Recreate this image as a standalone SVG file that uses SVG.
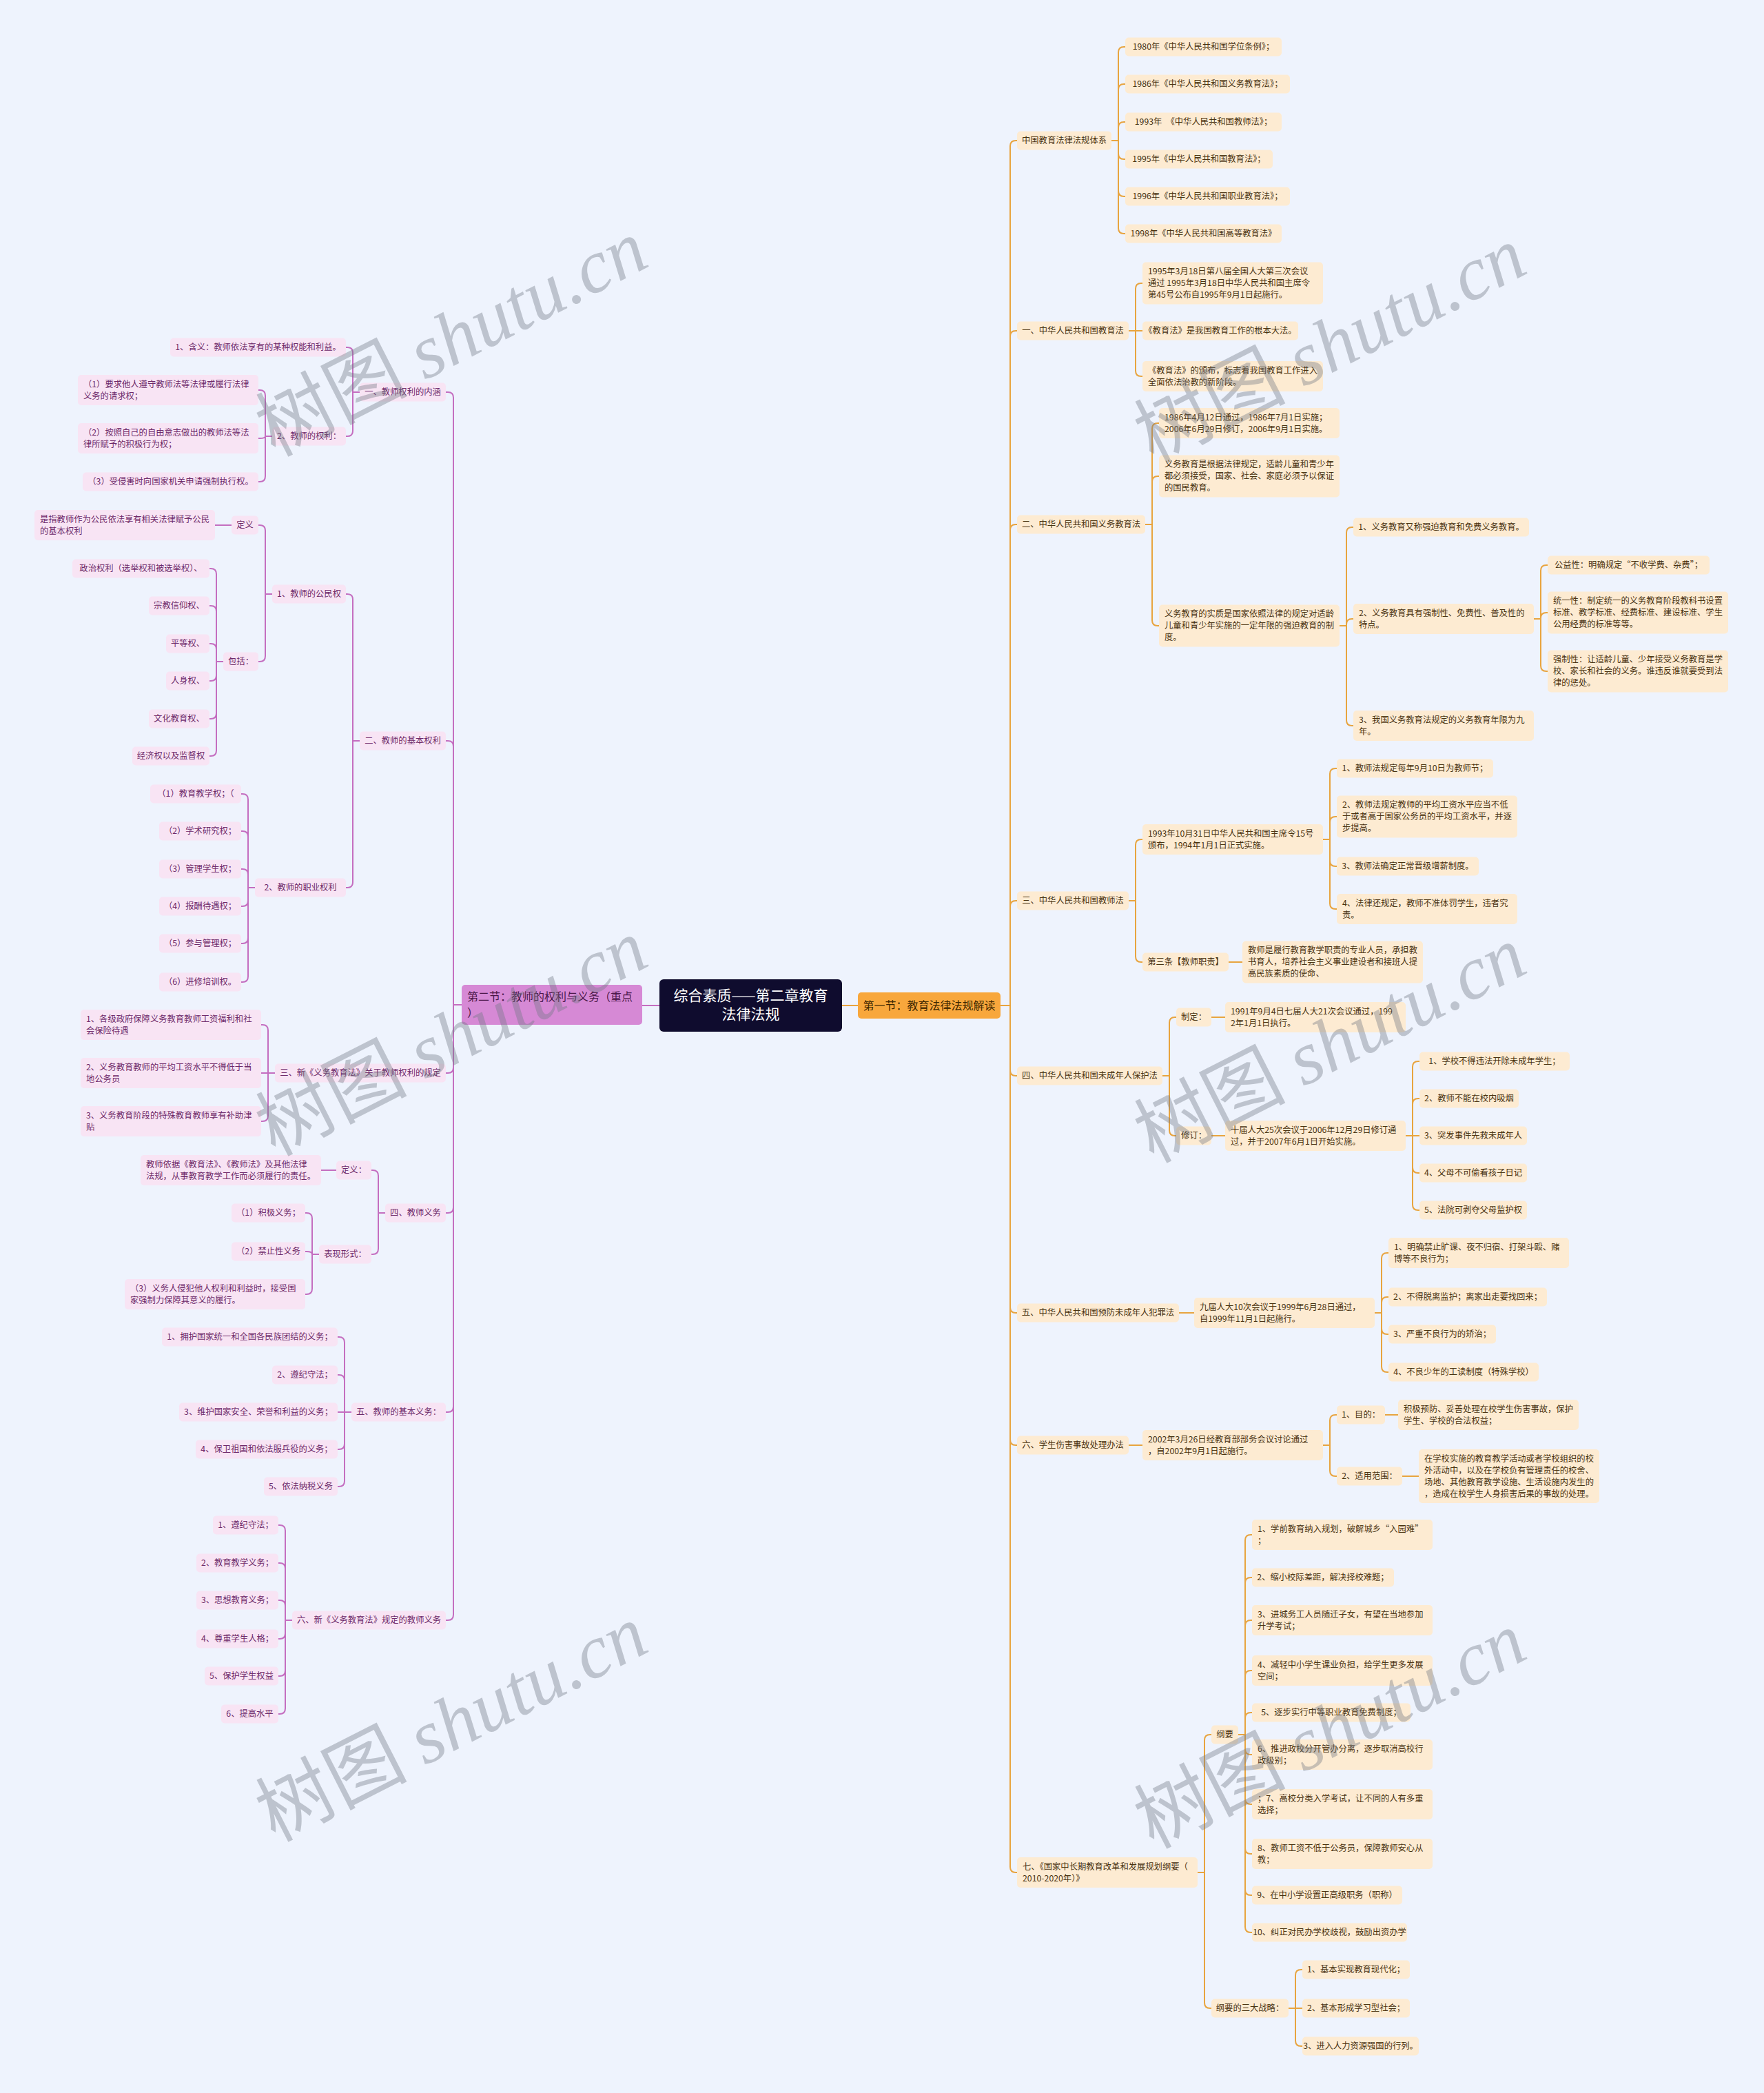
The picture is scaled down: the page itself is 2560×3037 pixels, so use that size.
<svg xmlns="http://www.w3.org/2000/svg" width="2560" height="3037" viewBox="0 0 2560 3037">
<style>
text{font-family:"Noto Sans CJK SC","Noto Sans",sans-serif;font-size:12.3px}
.rn rect{fill:#FDEBD2}
.rn text{fill:#4A3311}
.ln rect{fill:#F8E4F4}
.ln text{fill:#6E2A6A}
.c{text-anchor:middle}
.cr{fill:none;stroke:#E8A43F;stroke-width:2}
.cl{fill:none;stroke:#C46EC0;stroke-width:2}
.wm{font-size:110px;fill:#6F7580;fill-opacity:0.38;text-anchor:middle}
.wm .en{font-family:"Liberation Serif",serif;font-style:italic}
</style>
<rect x="0" y="0" width="2560" height="3037" fill="#EEF3FD"/>

<g id="connectors">
<path class="cr" d="M1222 1459 H1245 M1452 1459 H1466
M1466 1459 V212 Q1466 204 1474 204 H1476
M1466 1459 V488 Q1466 480 1474 480 H1476
M1466 1459 V769 Q1466 761 1474 761 H1476
M1466 1459 V1315 Q1466 1307 1474 1307 H1476
M1466 1459 V1553 Q1466 1561 1474 1561 H1476
M1466 1459 V1897 Q1466 1905 1474 1905 H1476
M1466 1459 V2089 Q1466 2097 1474 2097 H1476
M1466 1459 V2709 Q1466 2717 1474 2717 H1476
M1613 204 H1623
M1623 204 V76 Q1623 68 1631 68 H1633
M1623 204 V130 Q1623 122 1631 122 H1633
M1623 204 V185 Q1623 177 1631 177 H1633
M1623 204 V223 Q1623 231 1631 231 H1633
M1623 204 V277 Q1623 285 1631 285 H1633
M1623 204 V331 Q1623 339 1631 339 H1633
M1638 480 H1658
M1648 480 V419 Q1648 411 1656 411 H1658
M1648 480 V538 Q1648 546 1656 546 H1658
M1662 761 H1672
M1672 761 V622 Q1672 614 1680 614 H1682
M1672 761 V699 Q1672 691 1680 691 H1682
M1672 761 V900 Q1672 908 1680 908 H1682
M1944 908 H1954
M1954 908 V773 Q1954 765 1962 765 H1964
M1954 908 V906 Q1954 898 1962 898 H1964
M1954 908 V1045 Q1954 1053 1962 1053 H1964
M2226 898 H2236
M2236 898 V828 Q2236 820 2244 820 H2246
M2236 898 V897 Q2236 889 2244 889 H2246
M2236 898 V966 Q2236 974 2244 974 H2246
M1638 1307 H1648
M1648 1307 V1226 Q1648 1218 1656 1218 H1658
M1648 1307 V1388 Q1648 1396 1656 1396 H1658
M1920 1218 H1930
M1930 1218 V1123 Q1930 1115 1938 1115 H1940
M1930 1218 V1193 Q1930 1185 1938 1185 H1940
M1930 1218 V1249 Q1930 1257 1938 1257 H1940
M1930 1218 V1311 Q1930 1319 1938 1319 H1940
M1783 1396 H1803
M1687 1561 H1697
M1697 1561 V1484 Q1697 1476 1705 1476 H1707
M1697 1561 V1640 Q1697 1648 1705 1648 H1707
M1758 1476 H1778 M1758 1648 H1778
M2040 1648 H2060
M2050 1648 V1548 Q2050 1540 2058 1540 H2060
M2050 1648 V1602 Q2050 1594 2058 1594 H2060
M2050 1648 V1694 Q2050 1702 2058 1702 H2060
M2050 1648 V1748 Q2050 1756 2058 1756 H2060
M1711 1905 H1733
M1995 1905 H2005
M2005 1905 V1826 Q2005 1818 2013 1818 H2015
M2005 1905 V1890 Q2005 1882 2013 1882 H2015
M2005 1905 V1928 Q2005 1936 2013 1936 H2015
M2005 1905 V1983 Q2005 1991 2013 1991 H2015
M1638 2097 H1658
M1920 2097 H1930
M1930 2097 V2061 Q1930 2053 1938 2053 H1940
M1930 2097 V2134 Q1930 2142 1938 2142 H1940
M2010 2053 H2029 M2035 2142 H2059
M1738 2717 H1748
M1748 2717 V2525 Q1748 2517 1756 2517 H1758
M1748 2717 V2906 Q1748 2914 1756 2914 H1758
M1797 2517 H1807
M1807 2517 V2235 Q1807 2227 1815 2227 H1817
M1807 2517 V2297 Q1807 2289 1815 2289 H1817
M1807 2517 V2359 Q1807 2351 1815 2351 H1817
M1807 2517 V2432 Q1807 2424 1815 2424 H1817
M1807 2517 V2493 Q1807 2485 1815 2485 H1817
M1807 2517 V2538 Q1807 2546 1815 2546 H1817
M1807 2517 V2610 Q1807 2618 1815 2618 H1817
M1807 2517 V2682 Q1807 2690 1815 2690 H1817
M1807 2517 V2742 Q1807 2750 1815 2750 H1817
M1807 2517 V2796 Q1807 2804 1815 2804 H1817
M1870 2914 H1890
M1880 2914 V2866 Q1880 2858 1888 2858 H1890
M1880 2914 V2961 Q1880 2969 1888 2969 H1890"/>
<path class="cl" d="M957 1459 H932 M670 1458 H658
M658 1458 V577 Q658 569 650 569 H647
M658 1458 V1083 Q658 1075 650 1075 H647
M658 1458 V1549 Q658 1557 650 1557 H647
M658 1458 V1752 Q658 1760 650 1760 H647
M658 1458 V2041 Q658 2049 650 2049 H647
M658 1458 V2343 Q658 2351 650 2351 H647
M522 569 H512
M512 569 V512 Q512 504 504 504 H502
M512 569 V625 Q512 633 504 633 H502
M395 633 H385
M385 633 V574 Q385 566 377 566 H375
M385 633 Q385 636 377 636 H375
M385 633 V691 Q385 699 377 699 H375
M522 1075 H512
M512 1075 V870 Q512 862 504 862 H502
M512 1075 V1280 Q512 1288 504 1288 H502
M395 862 H385
M385 862 V770 Q385 762 377 762 H375
M385 862 V952 Q385 960 377 960 H375
M336 762 H312
M324 960 H314
M314 960 V833 Q314 825 306 825 H304
M314 960 V887 Q314 879 306 879 H304
M314 960 V942 Q314 934 306 934 H304
M314 960 V980 Q314 988 306 988 H304
M314 960 V1035 Q314 1043 306 1043 H304
M314 960 V1089 Q314 1097 306 1097 H304
M370 1288 H360
M360 1288 V1160 Q360 1152 352 1152 H350
M360 1288 V1214 Q360 1206 352 1206 H350
M360 1288 V1269 Q360 1261 352 1261 H350
M360 1288 V1307 Q360 1315 352 1315 H350
M360 1288 V1361 Q360 1369 352 1369 H350
M360 1288 V1417 Q360 1425 352 1425 H350
M399 1557 H379
M389 1557 V1495 Q389 1487 381 1487 H379
M389 1557 V1619 Q389 1627 381 1627 H379
M559 1760 H549
M549 1760 V1706 Q549 1698 541 1698 H539
M549 1760 V1812 Q549 1820 541 1820 H539
M488 1698 H466
M463 1820 H453
M453 1820 V1768 Q453 1760 445 1760 H443
M453 1820 Q453 1816 445 1816 H443
M453 1820 V1870 Q453 1878 445 1878 H443
M510 2049 H490
M500 2049 V1948 Q500 1940 492 1940 H490
M500 2049 V2003 Q500 1995 492 1995 H490
M500 2049 V2095 Q500 2103 492 2103 H490
M500 2049 V2149 Q500 2157 492 2157 H490
M424 2351 H414
M414 2351 V2221 Q414 2213 406 2213 H404
M414 2351 V2276 Q414 2268 406 2268 H404
M414 2351 V2330 Q414 2322 406 2322 H404
M414 2351 V2370 Q414 2378 406 2378 H404
M414 2351 V2424 Q414 2432 406 2432 H404
M414 2351 V2479 Q414 2487 406 2487 H404"/>
</g>

<g id="center"><rect x="957" y="1421" width="265" height="76" rx="6" fill="#0F0C2E"/><text x="1089.5" y="1452" class="c" style="font-size:21px;fill:#FFFFFF">综合素质——第二章教育</text><text x="1089.5" y="1479" class="c" style="font-size:21px;fill:#FFFFFF">法律法规</text></g>
<g id="main-right"><rect x="1245" y="1440" width="207" height="38" rx="5" fill="#F8A73C"/><text x="1348.5" y="1465" class="c" style="font-size:16px;fill:#3D2600">第一节：教育法律法规解读</text></g>
<g id="main-left"><rect x="670" y="1429" width="262" height="58" rx="5" fill="#D689D5"/><text x="678" y="1452" style="font-size:16px;fill:#4A1748">第二节：教师的权利与义务（重点</text><text x="678" y="1475" style="font-size:16px;fill:#4A1748">）</text></g>

<g class="rn">
<g id="r-a"><rect x="1476" y="190.5" width="137" height="27" rx="5"/><text x="1544.5" y="208" class="c">中国教育法律法规体系</text></g>
<g id="r-a1"><rect x="1633" y="54.5" width="227" height="27" rx="5"/><text x="1746.5" y="72" class="c">1980年《中华人民共和国学位条例》；</text></g>
<g id="r-a2"><rect x="1633" y="108.5" width="239" height="27" rx="5"/><text x="1752.5" y="126" class="c">1986年《中华人民共和国义务教育法》；</text></g>
<g id="r-a3"><rect x="1633" y="163.5" width="227" height="27" rx="5"/><text x="1746.5" y="181" class="c">1993年　《中华人民共和国教师法》；</text></g>
<g id="r-a4"><rect x="1633" y="217.5" width="214" height="27" rx="5"/><text x="1740" y="235" class="c">1995年《中华人民共和国教育法》；</text></g>
<g id="r-a5"><rect x="1633" y="271.5" width="239" height="27" rx="5"/><text x="1752.5" y="289" class="c">1996年《中华人民共和国职业教育法》；</text></g>
<g id="r-a6"><rect x="1633" y="325.5" width="227" height="27" rx="5"/><text x="1746.5" y="343" class="c">1998年《中华人民共和国高等教育法》</text></g>

<g id="r-b"><rect x="1476" y="466.5" width="162" height="27" rx="5"/><text x="1557" y="484" class="c">一、中华人民共和国教育法</text></g>
<g id="r-b1"><rect x="1658" y="380.5" width="262" height="61" rx="5"/><text x="1666" y="398">1995年3月18日第八届全国人大第三次会议</text><text x="1666" y="415">通过 1995年3月18日中华人民共和国主席令</text><text x="1666" y="432">第45号公布自1995年9月1日起施行。</text></g>
<g id="r-b2"><rect x="1658" y="466.5" width="226" height="27" rx="5"/><text x="1771" y="484" class="c">《教育法》是我国教育工作的根本大法。</text></g>
<g id="r-b3"><rect x="1658" y="524" width="262" height="44" rx="5"/><text x="1666" y="541.5">《教育法》的颁布，标志着我国教育工作进入</text><text x="1666" y="558.5">全面依法治教的新阶段。</text></g>

<g id="r-c"><rect x="1476" y="747.5" width="186" height="27" rx="5"/><text x="1569" y="765" class="c">二、中华人民共和国义务教育法</text></g>
<g id="r-c1"><rect x="1682" y="592" width="262" height="44" rx="5"/><text x="1690" y="609.5">1986年4月12日通过，1986年7月1日实施；</text><text x="1690" y="626.5">2006年6月29日修订，2006年9月1日实施。</text></g>
<g id="r-c2"><rect x="1682" y="660.5" width="262" height="61" rx="5"/><text x="1690" y="678">义务教育是根据法律规定，适龄儿童和青少年</text><text x="1690" y="695">都必须接受，国家、社会、家庭必须予以保证</text><text x="1690" y="712">的国民教育。</text></g>
<g id="r-c3"><rect x="1682" y="877.5" width="262" height="61" rx="5"/><text x="1690" y="895">义务教育的实质是国家依照法律的规定对适龄</text><text x="1690" y="912">儿童和青少年实施的一定年限的强迫教育的制</text><text x="1690" y="929">度。</text></g>
<g id="r-c31"><rect x="1964" y="751.5" width="255" height="27" rx="5"/><text x="2091.5" y="769" class="c">1、义务教育又称强迫教育和免费义务教育。</text></g>
<g id="r-c32"><rect x="1964" y="876" width="262" height="44" rx="5"/><text x="1972" y="893.5">2、义务教育具有强制性、免费性、普及性的</text><text x="1972" y="910.5">特点。</text></g>
<g id="r-c321"><rect x="2246" y="806.5" width="235" height="27" rx="5"/><text x="2363.5" y="824" class="c">公益性：明确规定“不收学费、杂费”；</text></g>
<g id="r-c322"><rect x="2246" y="858.5" width="262" height="61" rx="5"/><text x="2254" y="876">统一性：制定统一的义务教育阶段教科书设置</text><text x="2254" y="893">标准、教学标准、经费标准、建设标准、学生</text><text x="2254" y="910">公用经费的标准等等。</text></g>
<g id="r-c323"><rect x="2246" y="943.5" width="262" height="61" rx="5"/><text x="2254" y="961">强制性：让适龄儿童、少年接受义务教育是学</text><text x="2254" y="978">校、家长和社会的义务。谁违反谁就要受到法</text><text x="2254" y="995">律的惩处。</text></g>
<g id="r-c33"><rect x="1964" y="1031" width="262" height="44" rx="5"/><text x="1972" y="1048.5">3、我国义务教育法规定的义务教育年限为九</text><text x="1972" y="1065.5">年。</text></g>

<g id="r-d"><rect x="1476" y="1293.5" width="162" height="27" rx="5"/><text x="1557" y="1311" class="c">三、中华人民共和国教师法</text></g>
<g id="r-d1"><rect x="1658" y="1196" width="262" height="44" rx="5"/><text x="1666" y="1213.5">1993年10月31日中华人民共和国主席令15号</text><text x="1666" y="1230.5">颁布，1994年1月1日正式实施。</text></g>
<g id="r-d11"><rect x="1940" y="1101.5" width="227" height="27" rx="5"/><text x="2053.5" y="1119" class="c">1、教师法规定每年9月10日为教师节；</text></g>
<g id="r-d12"><rect x="1940" y="1154.5" width="262" height="61" rx="5"/><text x="1948" y="1172">2、教师法规定教师的平均工资水平应当不低</text><text x="1948" y="1189">于或者高于国家公务员的平均工资水平，并逐</text><text x="1948" y="1206">步提高。</text></g>
<g id="r-d13"><rect x="1940" y="1243.5" width="206" height="27" rx="5"/><text x="2043" y="1261" class="c">3、教师法确定正常晋级增薪制度。</text></g>
<g id="r-d14"><rect x="1940" y="1297" width="262" height="44" rx="5"/><text x="1948" y="1314.5">4、法律还规定，教师不准体罚学生，违者究</text><text x="1948" y="1331.5">责。</text></g>
<g id="r-d2"><rect x="1658" y="1382.5" width="125" height="27" rx="5"/><text x="1720.5" y="1400" class="c">第三条【教师职责】</text></g>
<g id="r-d21"><rect x="1803" y="1365.5" width="262" height="61" rx="5"/><text x="1811" y="1383">教师是履行教育教学职责的专业人员，承担教</text><text x="1811" y="1400">书育人，培养社会主义事业建设者和接班人提</text><text x="1811" y="1417">高民族素质的使命、</text></g>

<g id="r-e"><rect x="1476" y="1547.5" width="211" height="27" rx="5"/><text x="1581.5" y="1565" class="c">四、中华人民共和国未成年人保护法</text></g>
<g id="r-e1"><rect x="1707" y="1462.5" width="51" height="27" rx="5"/><text x="1732.5" y="1480" class="c">制定：</text></g>
<g id="r-e11"><rect x="1778" y="1454" width="262" height="44" rx="5"/><text x="1786" y="1471.5">1991年9月4日七届人大21次会议通过，199</text><text x="1786" y="1488.5">2年1月1日执行。</text></g>
<g id="r-e2"><rect x="1707" y="1634.5" width="51" height="27" rx="5"/><text x="1732.5" y="1652" class="c">修订：</text></g>
<g id="r-e21"><rect x="1778" y="1626" width="262" height="44" rx="5"/><text x="1786" y="1643.5">十届人大25次会议于2006年12月29日修订通</text><text x="1786" y="1660.5">过，并于2007年6月1日开始实施。</text></g>
<g id="r-e211"><rect x="2060" y="1526.5" width="218" height="27" rx="5"/><text x="2169" y="1544" class="c">1、学校不得违法开除未成年学生；</text></g>
<g id="r-e212"><rect x="2060" y="1580.5" width="144" height="27" rx="5"/><text x="2132" y="1598" class="c">2、教师不能在校内吸烟</text></g>
<g id="r-e213"><rect x="2060" y="1634.5" width="156" height="27" rx="5"/><text x="2138" y="1652" class="c">3、突发事件先救未成年人</text></g>
<g id="r-e214"><rect x="2060" y="1688.5" width="156" height="27" rx="5"/><text x="2138" y="1706" class="c">4、父母不可偷看孩子日记</text></g>
<g id="r-e215"><rect x="2060" y="1742.5" width="156" height="27" rx="5"/><text x="2138" y="1760" class="c">5、法院可剥夺父母监护权</text></g>

<g id="r-f"><rect x="1476" y="1891.5" width="235" height="27" rx="5"/><text x="1593.5" y="1909" class="c">五、中华人民共和国预防未成年人犯罪法</text></g>
<g id="r-f1"><rect x="1733" y="1883" width="262" height="44" rx="5"/><text x="1741" y="1900.5">九届人大10次会议于1999年6月28日通过，</text><text x="1741" y="1917.5">自1999年11月1日起施行。</text></g>
<g id="r-f11"><rect x="2015" y="1796" width="262" height="44" rx="5"/><text x="2023" y="1813.5">1、明确禁止旷课、夜不归宿、打架斗殴、赌</text><text x="2023" y="1830.5">博等不良行为；</text></g>
<g id="r-f12"><rect x="2015" y="1868.5" width="230" height="27" rx="5"/><text x="2130" y="1886" class="c">2、不得脱离监护；离家出走要找回来；</text></g>
<g id="r-f13"><rect x="2015" y="1922.5" width="156" height="27" rx="5"/><text x="2093" y="1940" class="c">3、严重不良行为的矫治；</text></g>
<g id="r-f14"><rect x="2015" y="1977.5" width="218" height="27" rx="5"/><text x="2124" y="1995" class="c">4、不良少年的工读制度（特殊学校）</text></g>

<g id="r-g"><rect x="1476" y="2083.5" width="162" height="27" rx="5"/><text x="1557" y="2101" class="c">六、学生伤害事故处理办法</text></g>
<g id="r-g1"><rect x="1658" y="2075" width="262" height="44" rx="5"/><text x="1666" y="2092.5">2002年3月26日经教育部部务会议讨论通过</text><text x="1666" y="2109.5">，自2002年9月1日起施行。</text></g>
<g id="r-g11"><rect x="1940" y="2039.5" width="70" height="27" rx="5"/><text x="1975" y="2057" class="c">1、目的：</text></g>
<g id="r-g111"><rect x="2029" y="2031" width="262" height="44" rx="5"/><text x="2037" y="2048.5">积极预防、妥善处理在校学生伤害事故，保护</text><text x="2037" y="2065.5">学生、学校的合法权益；</text></g>
<g id="r-g12"><rect x="1940" y="2128.5" width="95" height="27" rx="5"/><text x="1987.5" y="2146" class="c">2、适用范围：</text></g>
<g id="r-g121"><rect x="2059" y="2103" width="262" height="78" rx="5"/><text x="2067" y="2120.5">在学校实施的教育教学活动或者学校组织的校</text><text x="2067" y="2137.5">外活动中，以及在学校负有管理责任的校舍、</text><text x="2067" y="2154.5">场地、其他教育教学设施、生活设施内发生的</text><text x="2067" y="2171.5">，造成在校学生人身损害后果的事故的处理。</text></g>

<g id="r-h"><rect x="1476" y="2695" width="262" height="44" rx="5"/><text x="1484" y="2712.5">七、《国家中长期教育改革和发展规划纲要（</text><text x="1484" y="2729.5">2010-2020年）》</text></g>
<g id="r-h1"><rect x="1758" y="2503.5" width="39" height="27" rx="5"/><text x="1777.5" y="2521" class="c">纲要</text></g>
<g id="r-h11"><rect x="1817" y="2205" width="262" height="44" rx="5"/><text x="1825" y="2222.5">1、学前教育纳入规划，破解城乡“入园难”</text><text x="1825" y="2239.5">；</text></g>
<g id="r-h12"><rect x="1817" y="2275.5" width="206" height="27" rx="5"/><text x="1920" y="2293" class="c">2、缩小校际差距，解决择校难题；</text></g>
<g id="r-h13"><rect x="1817" y="2329" width="262" height="44" rx="5"/><text x="1825" y="2346.5">3、进城务工人员随迁子女，有望在当地参加</text><text x="1825" y="2363.5">升学考试；</text></g>
<g id="r-h14"><rect x="1817" y="2402" width="262" height="44" rx="5"/><text x="1825" y="2419.5">4、减轻中小学生课业负担，给学生更多发展</text><text x="1825" y="2436.5">空间；</text></g>
<g id="r-h15"><rect x="1817" y="2471.5" width="230" height="27" rx="5"/><text x="1932" y="2489" class="c">5、逐步实行中等职业教育免费制度；</text></g>
<g id="r-h16"><rect x="1817" y="2524" width="262" height="44" rx="5"/><text x="1825" y="2541.5">6、推进政校分开管办分离，逐步取消高校行</text><text x="1825" y="2558.5">政级别；</text></g>
<g id="r-h17"><rect x="1817" y="2596" width="262" height="44" rx="5"/><text x="1825" y="2613.5">；7、高校分类入学考试，让不同的人有多重</text><text x="1825" y="2630.5">选择；</text></g>
<g id="r-h18"><rect x="1817" y="2668" width="262" height="44" rx="5"/><text x="1825" y="2685.5">8、教师工资不低于公务员，保障教师安心从</text><text x="1825" y="2702.5">教；</text></g>
<g id="r-h19"><rect x="1817" y="2736.5" width="218" height="27" rx="5"/><text x="1926" y="2754" class="c">9、在中小学设置正高级职务（职称）</text></g>
<g id="r-h110"><rect x="1817" y="2790.5" width="225" height="27" rx="5"/><text x="1929.5" y="2808" class="c">10、纠正对民办学校歧视，鼓励出资办学</text></g>
<g id="r-h2"><rect x="1758" y="2900.5" width="112" height="27" rx="5"/><text x="1814" y="2918" class="c">纲要的三大战略：</text></g>
<g id="r-h21"><rect x="1890" y="2844.5" width="156" height="27" rx="5"/><text x="1968" y="2862" class="c">1、基本实现教育现代化；</text></g>
<g id="r-h22"><rect x="1890" y="2900.5" width="156" height="27" rx="5"/><text x="1968" y="2918" class="c">2、基本形成学习型社会；</text></g>
<g id="r-h23"><rect x="1890" y="2955.5" width="169" height="27" rx="5"/><text x="1974.5" y="2973" class="c">3、进入人力资源强国的行列。</text></g>
</g>

<g class="ln">
<g id="l-1"><rect x="522" y="555.5" width="125" height="27" rx="5"/><text x="584.5" y="573" class="c">一、教师权利的内涵</text></g>
<g id="l-11"><rect x="247" y="490.5" width="255" height="27" rx="5"/><text x="374.5" y="508" class="c">1、含义：教师依法享有的某种权能和利益。</text></g>
<g id="l-12"><rect x="395" y="619.5" width="107" height="27" rx="5"/><text x="448.5" y="637" class="c">2、教师的权利：</text></g>
<g id="l-121"><rect x="113" y="544" width="262" height="44" rx="5"/><text x="121" y="561.5">（1）要求他人遵守教师法等法律或履行法律</text><text x="121" y="578.5">义务的请求权；</text></g>
<g id="l-122"><rect x="113" y="614" width="262" height="44" rx="5"/><text x="121" y="631.5">（2）按照自己的自由意志做出的教师法等法</text><text x="121" y="648.5">律所赋予的积极行为权；</text></g>
<g id="l-123"><rect x="120" y="685.5" width="255" height="27" rx="5"/><text x="247.5" y="703" class="c">（3）受侵害时向国家机关申请强制执行权。</text></g>

<g id="l-2"><rect x="522" y="1061.5" width="125" height="27" rx="5"/><text x="584.5" y="1079" class="c">二、教师的基本权利</text></g>
<g id="l-21"><rect x="395" y="848.5" width="107" height="27" rx="5"/><text x="448.5" y="866" class="c">1、教师的公民权</text></g>
<g id="l-211"><rect x="336" y="748.5" width="39" height="27" rx="5"/><text x="355.5" y="766" class="c">定义</text></g>
<g id="l-2111"><rect x="50" y="740" width="262" height="44" rx="5"/><text x="58" y="757.5">是指教师作为公民依法享有相关法律赋予公民</text><text x="58" y="774.5">的基本权利</text></g>
<g id="l-212"><rect x="324" y="946.5" width="51" height="27" rx="5"/><text x="349.5" y="964" class="c">包括：</text></g>
<g id="l-2121"><rect x="105" y="811.5" width="199" height="27" rx="5"/><text x="204.5" y="829" class="c">政治权利（选举权和被选举权）、</text></g>
<g id="l-2122"><rect x="216" y="865.5" width="88" height="27" rx="5"/><text x="260" y="883" class="c">宗教信仰权、</text></g>
<g id="l-2123"><rect x="241" y="920.5" width="63" height="27" rx="5"/><text x="272.5" y="938" class="c">平等权、</text></g>
<g id="l-2124"><rect x="241" y="974.5" width="63" height="27" rx="5"/><text x="272.5" y="992" class="c">人身权、</text></g>
<g id="l-2125"><rect x="216" y="1029.5" width="88" height="27" rx="5"/><text x="260" y="1047" class="c">文化教育权、</text></g>
<g id="l-2126"><rect x="192" y="1083.5" width="112" height="27" rx="5"/><text x="248" y="1101" class="c">经济权以及监督权</text></g>
<g id="l-22"><rect x="370" y="1274.5" width="132" height="27" rx="5"/><text x="436" y="1292" class="c">2、教师的职业权利</text></g>
<g id="l-221"><rect x="218" y="1138.5" width="132" height="27" rx="5"/><text x="284" y="1156" class="c">（1）教育教学权；（</text></g>
<g id="l-222"><rect x="231" y="1192.5" width="119" height="27" rx="5"/><text x="290.5" y="1210" class="c">（2）学术研究权；</text></g>
<g id="l-223"><rect x="231" y="1247.5" width="119" height="27" rx="5"/><text x="290.5" y="1265" class="c">（3）管理学生权；</text></g>
<g id="l-224"><rect x="231" y="1301.5" width="119" height="27" rx="5"/><text x="290.5" y="1319" class="c">（4）报酬待遇权；</text></g>
<g id="l-225"><rect x="231" y="1355.5" width="119" height="27" rx="5"/><text x="290.5" y="1373" class="c">（5）参与管理权；</text></g>
<g id="l-226"><rect x="231" y="1411.5" width="119" height="27" rx="5"/><text x="290.5" y="1429" class="c">（6）进修培训权。</text></g>

<g id="l-3"><rect x="399" y="1543.5" width="248" height="27" rx="5"/><text x="523" y="1561" class="c">三、新《义务教育法》关于教师权利的规定</text></g>
<g id="l-31"><rect x="117" y="1465" width="262" height="44" rx="5"/><text x="125" y="1482.5">1、各级政府保障义务教育教师工资福利和社</text><text x="125" y="1499.5">会保险待遇</text></g>
<g id="l-32"><rect x="117" y="1535" width="262" height="44" rx="5"/><text x="125" y="1552.5">2、义务教育教师的平均工资水平不得低于当</text><text x="125" y="1569.5">地公务员</text></g>
<g id="l-33"><rect x="117" y="1605" width="262" height="44" rx="5"/><text x="125" y="1622.5">3、义务教育阶段的特殊教育教师享有补助津</text><text x="125" y="1639.5">贴</text></g>

<g id="l-4"><rect x="559" y="1746.5" width="88" height="27" rx="5"/><text x="603" y="1764" class="c">四、教师义务</text></g>
<g id="l-41"><rect x="488" y="1684.5" width="51" height="27" rx="5"/><text x="513.5" y="1702" class="c">定义：</text></g>
<g id="l-411"><rect x="204" y="1676" width="262" height="44" rx="5"/><text x="212" y="1693.5">教师依据《教育法》、《教师法》及其他法律</text><text x="212" y="1710.5">法规，从事教育教学工作而必须履行的责任。</text></g>
<g id="l-42"><rect x="463" y="1806.5" width="76" height="27" rx="5"/><text x="501" y="1824" class="c">表现形式：</text></g>
<g id="l-421"><rect x="336" y="1746.5" width="107" height="27" rx="5"/><text x="389.5" y="1764" class="c">（1）积极义务；</text></g>
<g id="l-422"><rect x="336" y="1802.5" width="107" height="27" rx="5"/><text x="389.5" y="1820" class="c">（2）禁止性义务</text></g>
<g id="l-423"><rect x="181" y="1856" width="262" height="44" rx="5"/><text x="189" y="1873.5">（3）义务人侵犯他人权利和利益时，接受国</text><text x="189" y="1890.5">家强制力保障其意义的履行。</text></g>

<g id="l-5"><rect x="510" y="2035.5" width="137" height="27" rx="5"/><text x="578.5" y="2053" class="c">五、教师的基本义务：</text></g>
<g id="l-51"><rect x="235" y="1926.5" width="255" height="27" rx="5"/><text x="362.5" y="1944" class="c">1、拥护国家统一和全国各民族团结的义务；</text></g>
<g id="l-52"><rect x="395" y="1981.5" width="95" height="27" rx="5"/><text x="442.5" y="1999" class="c">2、遵纪守法；</text></g>
<g id="l-53"><rect x="260" y="2035.5" width="230" height="27" rx="5"/><text x="375" y="2053" class="c">3、维护国家安全、荣誉和利益的义务；</text></g>
<g id="l-54"><rect x="284" y="2089.5" width="206" height="27" rx="5"/><text x="387" y="2107" class="c">4、保卫祖国和依法服兵役的义务；</text></g>
<g id="l-55"><rect x="383" y="2143.5" width="107" height="27" rx="5"/><text x="436.5" y="2161" class="c">5、依法纳税义务</text></g>

<g id="l-6"><rect x="424" y="2337.5" width="223" height="27" rx="5"/><text x="535.5" y="2355" class="c">六、新《义务教育法》规定的教师义务</text></g>
<g id="l-61"><rect x="309" y="2199.5" width="95" height="27" rx="5"/><text x="356.5" y="2217" class="c">1、遵纪守法；</text></g>
<g id="l-62"><rect x="285" y="2254.5" width="119" height="27" rx="5"/><text x="344.5" y="2272" class="c">2、教育教学义务；</text></g>
<g id="l-63"><rect x="285" y="2308.5" width="119" height="27" rx="5"/><text x="344.5" y="2326" class="c">3、思想教育义务；</text></g>
<g id="l-64"><rect x="285" y="2364.5" width="119" height="27" rx="5"/><text x="344.5" y="2382" class="c">4、尊重学生人格；</text></g>
<g id="l-65"><rect x="297" y="2418.5" width="107" height="27" rx="5"/><text x="350.5" y="2436" class="c">5、保护学生权益</text></g>
<g id="l-66"><rect x="321" y="2473.5" width="83" height="27" rx="5"/><text x="362.5" y="2491" class="c">6、提高水平</text></g>
</g>

<g id="watermarks">
<text class="wm" transform="translate(655 490) rotate(-27)" x="0" y="38">树图 <tspan class="en">shutu.cn</tspan></text>
<text class="wm" transform="translate(1930 500) rotate(-27)" x="0" y="38">树图 <tspan class="en">shutu.cn</tspan></text>
<text class="wm" transform="translate(655 1505) rotate(-27)" x="0" y="38">树图 <tspan class="en">shutu.cn</tspan></text>
<text class="wm" transform="translate(1930 1515) rotate(-27)" x="0" y="38">树图 <tspan class="en">shutu.cn</tspan></text>
<text class="wm" transform="translate(655 2500) rotate(-27)" x="0" y="38">树图 <tspan class="en">shutu.cn</tspan></text>
<text class="wm" transform="translate(1930 2510) rotate(-27)" x="0" y="38">树图 <tspan class="en">shutu.cn</tspan></text>
</g>
</svg>
